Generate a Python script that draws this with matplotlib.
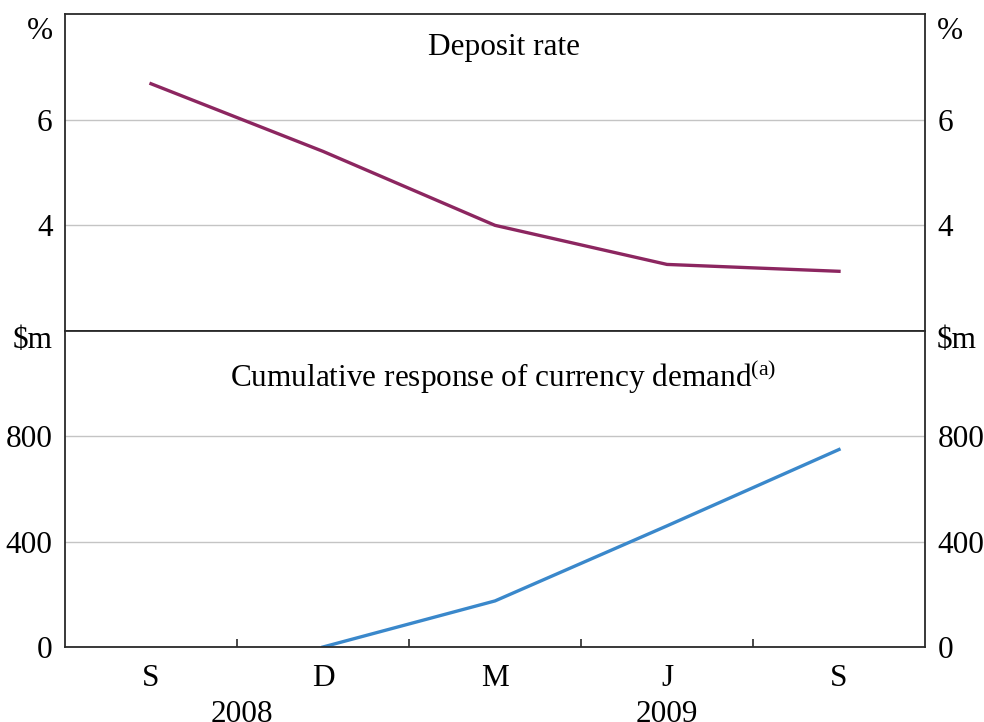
import numpy as np
import matplotlib.pyplot as plt

plt.rcParams['font.family'] = ['Liberation Serif', 'DejaVu Serif']
plt.rcParams['mathtext.fontset'] = 'custom'
plt.rcParams['mathtext.rm'] = 'Liberation Serif'

# quarterly observations, Sep 2008 - Sep 2009
quarters = ['S', 'D', 'M', 'J', 'S']
deposit_rate = [6.68, 5.4, 4.0, 3.26, 3.13]
currency_resp = [np.nan, 0, 175, 460, 750]
years = ['2008', '2009']
year_pos = [0.53, 3.0]

x = np.arange(len(quarters))
fs = 22.5
frame_col = '#2a2a2a'
grid_col = '#c4c4c4'

fig = plt.figure(figsize=(9.84, 7.22), dpi=100)
left, width = 65 / 984, 860 / 984
ax1 = fig.add_axes([left, 1 - 331 / 722, width, 317 / 722])
ax2 = fig.add_axes([left, 1 - 647 / 722, width, 316 / 722])


def style_axis(ax, ylim, yticks, unit, unit_y):
    ax.set_xlim(-0.5, 4.5)
    ax.set_ylim(*ylim)
    ax.set_yticks(yticks)
    ax.yaxis.grid(True, color=grid_col, lw=1)
    ax.set_axisbelow(True)
    ax.tick_params(axis='y', length=0, labelsize=fs, pad=9,
                   left=True, right=True, labelleft=True, labelright=True)
    for s in ax.spines.values():
        s.set_color(frame_col)
        s.set_linewidth(1.3)
    off = 12 / 860
    ax.text(-off, unit_y, unit, transform=ax.transAxes, fontsize=fs,
            ha='right', va='center')
    ax.text(1 + off, unit_y, unit, transform=ax.transAxes, fontsize=fs,
            ha='left', va='center')


style_axis(ax1, (2, 8), [2, 4, 6], '%', 0.945)
ax1.set_yticklabels(['', '4', '6'])
ax1.set_xticks([])
ax1.plot(x, deposit_rate, color='#8c2660', lw=2.4)
ax1.text(2.05, 0.895, 'Deposit rate', transform=ax1.get_xaxis_transform(),
         fontsize=fs, ha='center', va='center')

style_axis(ax2, (0, 1200), [0, 400, 800], '$m', 0.97)
ax2.plot(x, currency_resp, color='#3a88cb', lw=2.4)
ax2.text(2.05, 0.855, r'Cumulative response of currency demand$^{\mathrm{(a)}}$',
         transform=ax2.get_xaxis_transform(), fontsize=fs, ha='center', va='center')

ax2.set_xticks(x)
ax2.set_xticklabels(quarters, fontsize=fs)
ax2.set_xticks(x[:-1] + 0.5, minor=True)
ax2.tick_params(axis='x', which='major', length=0, pad=12)
ax2.tick_params(axis='x', which='minor', direction='in', length=6,
                width=1.2, color=frame_col)
for yr, p in zip(years, year_pos):
    ax2.text(p, -0.213, yr, transform=ax2.get_xaxis_transform(), fontsize=fs,
             ha='center', va='center')

fig.savefig('out.png', dpi=100)
